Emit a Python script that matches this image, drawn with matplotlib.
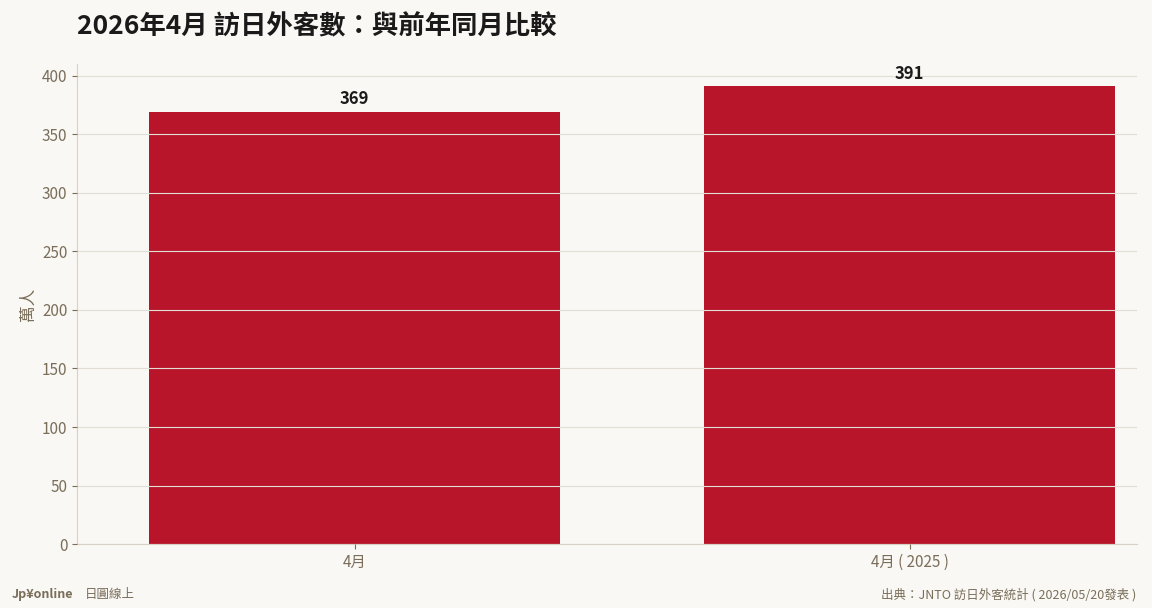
import matplotlib
matplotlib.use("Agg")
import matplotlib.pyplot as plt

plt.rcParams['font.family'] = ['Noto Sans CJK TC', 'DejaVu Sans']

categories = ["4月", "4月 ( 2025 )"]
values = [369, 391]
title = "2026年4月 訪日外客數：與前年同月比較"
ylabel = "萬人"

bg = "#faf8f4"
fig = plt.figure(figsize=(11.52, 6.08), dpi=100, facecolor=bg)
ax = fig.add_axes([0.067, 0.105, 0.92, 0.79], facecolor=bg)
x = range(len(categories))
ax.bar(x, values, width=0.74, color="#b8152b", zorder=1)
for i, v in zip(x, values):
    ax.text(i, v + 3, str(v), ha="center", va="bottom", fontsize=12, fontweight="bold", color="#1a1a1a")
ax.set_xticks(list(x))
ax.set_xticklabels(categories)
ax.set_xlim(-0.5, 1.41)
ax.set_ylim(0, 410)
ax.set_yticks(range(0, 401, 50))
ax.grid(axis="y", color="#e3ded5", linewidth=0.8, zorder=3)
ax.set_axisbelow(False)
ax.tick_params(colors="#7a6e5a", labelsize=11)
for s in ["top", "right"]:
    ax.spines[s].set_visible(False)
for s in ["left", "bottom"]:
    ax.spines[s].set_color("#d8d2c6")
ax.set_ylabel(ylabel, color="#7a6e5a", fontsize=12)
fig.text(0.067, 0.955, title, fontsize=19, fontweight="bold", color="#1a1a1a", va="center")
fig.text(0.01, 0.022, "Jp¥online", fontsize=9, fontweight="bold", color="#7a6e5a", va="center")
fig.text(0.074, 0.022, "日圓線上", fontsize=9, color="#7a6e5a", va="center")
fig.text(0.986, 0.022, "出典：JNTO 訪日外客統計 ( 2026/05/20發表 )", fontsize=9, color="#7a6e5a", va="center", ha="right")
fig.savefig("out.png", facecolor=bg)
